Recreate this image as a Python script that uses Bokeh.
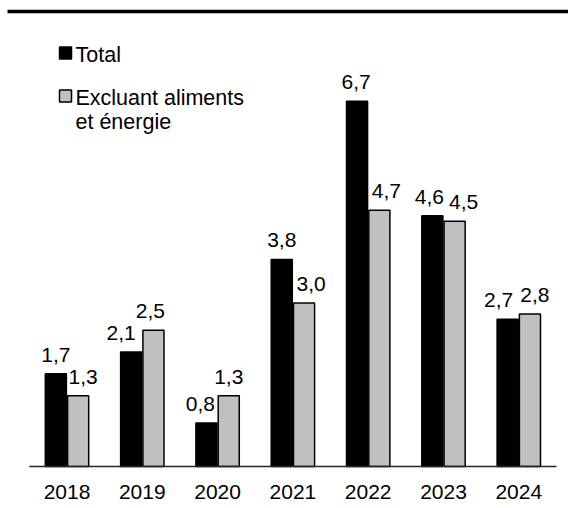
from bokeh.plotting import figure
from bokeh.models import Range1d, FixedTicker, ColumnDataSource
from bokeh.core.properties import value
from bokeh.embed import file_html
from bokeh.resources import INLINE

# ---- data ----
years = ["2018", "2019", "2020", "2021", "2022", "2023", "2024"]
total = [1.7, 2.1, 0.8, 3.8, 6.7, 4.6, 2.7]
core = [1.3, 2.5, 1.3, 3.0, 4.7, 4.5, 2.8]
series_names = ["Total", "Excluant aliments", "et énergie"]

# ---- label nudges (screen px), as placed in the original ----
total_label_dx = [0, -10, -6, 0, -1, -3, -9]
core_label_dx = [5, -3, 0, 7, 7, 9, 5]

# ---- geometry (pixels in screenshot space) ----
PX_PER_CAT = 75.3
X0_PAGE = 66.5          # x of first category centre
PX_PER_UNIT = 54.5
BASE_PAGE = 466.0       # y of the zero line
FRAME_W, FRAME_H = 568, 474
LABEL_GAP = 19

def px2x(px):
    return (px - X0_PAGE) / PX_PER_CAT

def py2y(py):
    return (BASE_PAGE - py) / PX_PER_UNIT

FONT = "Liberation Sans"
FS = "21px"
FS_LEG = "21.5px"

x_start = px2x(0)
x_end = px2x(FRAME_W)
y_end = py2y(0)
y_start = py2y(FRAME_H)

p = figure(frame_width=FRAME_W, frame_height=FRAME_H,
           x_range=Range1d(x_start, x_end), y_range=Range1d(y_start, y_end),
           output_backend="svg", toolbar_location=None,
           min_border_left=0, min_border_right=0, min_border_top=0,
           min_border_bottom=24)
p.outline_line_color = None
p.grid.visible = False
p.yaxis.visible = False
p.background_fill_color = "white"
p.border_fill_color = "white"

idx = list(range(len(years)))
off = 0.148
bw = 0.28
src = ColumnDataSource(dict(
    xt=[i - off for i in idx], xc=[i + off for i in idx],
    total=total, core=core,
    lt=[f"{v:.1f}".replace(".", ",") for v in total],
    lc=[f"{v:.1f}".replace(".", ",") for v in core],
    yt=[v + LABEL_GAP / PX_PER_UNIT for v in total],
    yc=[v + LABEL_GAP / PX_PER_UNIT for v in core],
    dxt=total_label_dx, dxc=core_label_dx,
))

p.vbar(x="xt", top="total", bottom=0, width=bw, source=src,
       fill_color="black", line_color="black", line_width=1.5)
p.vbar(x="xc", top="core", bottom=0, width=bw, source=src,
       fill_color="#C0C0C0", line_color="black", line_width=1.5)

# zero line
p.segment(x0=[-0.5], y0=[0], x1=[len(years) - 0.5], y1=[0],
          line_color="#262626", line_width=1.5)

# value labels
p.text(x="xt", y="yt", text="lt", source=src, x_offset="dxt",
       text_align="center", text_baseline="alphabetic",
       text_font=value(FONT), text_font_size=FS, text_color="black")
p.text(x="xc", y="yc", text="lc", source=src, x_offset="dxc",
       text_align="center", text_baseline="alphabetic",
       text_font=value(FONT), text_font_size=FS, text_color="black")

# thick rule at top
p.segment(x0=[px2x(7)], y0=[py2y(11)], x1=[x_end], y1=[py2y(11)],
          line_color="black", line_width=3.5)

# legend (manual)
p.scatter(x=[px2x(65), px2x(65)], y=[py2y(52.5), py2y(95.5)],
          marker="square", size=12, line_width=1.5, line_color="black",
          fill_color=["black", "#C0C0C0"])
p.text(x=[px2x(75)] * 3, y=[py2y(54.5), py2y(97.5), py2y(121)],
       text=series_names, text_align="left", text_baseline="alphabetic",
       text_font=value(FONT), text_font_size=FS_LEG, text_color="black")

# x axis
ax = p.xaxis[0]
ax.ticker = FixedTicker(ticks=idx)
ax.major_label_overrides = {i: y for i, y in zip(idx, years)}
ax.axis_line_color = None
ax.major_tick_line_color = None
ax.minor_tick_line_color = None
ax.major_label_standoff = 4
ax.major_label_text_font = FONT
ax.major_label_text_font_size = FS
ax.major_label_text_color = "black"

open("out.html", "w").write(file_html(p, INLINE))
